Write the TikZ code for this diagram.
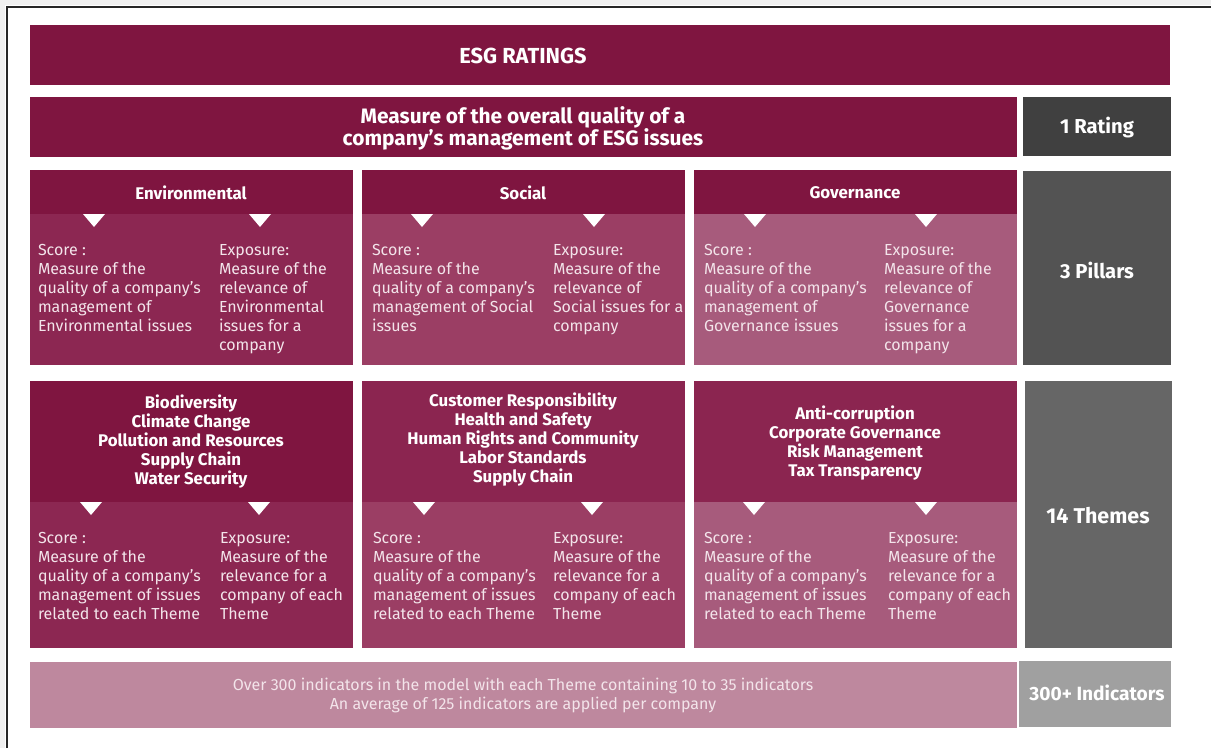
\documentclass[tikz,border=0pt]{standalone}
\usepackage{fontspec}
\setmainfont{Fira Sans}
\definecolor{esgdark}{HTML}{7F1540}
\definecolor{envlight}{HTML}{8C2752}
\definecolor{soclight}{HTML}{9B3E64}
\definecolor{govlight}{HTML}{A75B7C}
\definecolor{themehead}{HTML}{8B2550}
\definecolor{ratinggray}{HTML}{404040}
\definecolor{pillargray}{HTML}{535353}
\definecolor{themegray}{HTML}{666666}
\definecolor{indgray}{HTML}{A0A0A0}
\definecolor{indbar}{HTML}{BE889E}
\definecolor{textpink}{HTML}{F3E4EA}
\begin{document}
\begin{tikzpicture}[x=0.02cm, y=-0.02cm, every node/.style={inner sep=0pt, outer sep=0pt},
    head/.style={font=\bfseries\fontsize{9.6}{10.8}\selectfont, text=white, align=center},
    body/.style={font=\fontsize{9.1}{10.8}\selectfont, text=textpink, align=left, anchor=base west},
    side/.style={font=\bfseries\fontsize{11.5}{12}\selectfont, text=white}]
    \useasboundingbox (0,0) rectangle (1211,748);
    \fill[gray!12] (0,0) rectangle (1211,5);
    \fill[gray!12] (0,0) rectangle (5,748);
    \draw[line width=1.5*0.02cm, black!85] (7,748) -- (7,7) -- (1211,7);

    % top bars (multi-line nodes sit on the baseline of their last line)
    \fill[esgdark] (30,25) rectangle (1170,85);
    \node[head, font=\bfseries\fontsize{12.4}{13}\selectfont] (title) at (523,56) {ESG RATINGS};
    \fill[esgdark] (30,97) rectangle (1017,157);
    \node[head, font=\bfseries\fontsize{11.9}{12.5}\selectfont] (overall) at (523,128) {Measure of the overall quality of a\\company’s management of ESG issues};
    \fill[ratinggray] (1023,97) rectangle (1171,156);
    \node[side] (rating) at (1097,128) {1 Rating};

    % pillars
    \fill[esgdark] (30,170) rectangle (353,214);
    \fill[envlight] (30,214) rectangle (353,365);
    \fill[esgdark] (362,170) rectangle (685,214);
    \fill[soclight] (362,214) rectangle (685,365);
    \fill[esgdark] (694,170) rectangle (1017,214);
    \fill[govlight] (694,214) rectangle (1017,365);
    \foreach \x in {94,260,422,594,755,926}
        \fill[white] (\x-11,214) -- (\x+11,214) -- (\x,227) -- cycle;
    \node[head] (envhead) at (191,193) {Environmental};
    \node[head] (sochead) at (523,193) {Social};
    \node[head] (govhead) at (855,193) {Governance};
    \node[body] (envscore) at (38,331) {Score :\\Measure of the\\quality of a company’s\\management of\\Environmental issues};
    \node[body] (envexpo) at (219,350) {Exposure:\\Measure of the\\relevance of\\Environmental\\issues for a\\company};
    \node[body] (socscore) at (372,331) {Score :\\Measure of the\\quality of a company’s\\management of Social\\issues};
    \node[body] (socexpo) at (553,331) {Exposure:\\Measure of the\\relevance of\\Social issues for a\\company};
    \node[body] (govscore) at (704,331) {Score :\\Measure of the\\quality of a company’s\\management of\\Governance issues};
    \node[body] (govexpo) at (884,350) {Exposure:\\Measure of the\\relevance of\\Governance\\issues for a\\company};
    \fill[pillargray] (1023,171) rectangle (1171,365);
    \node[side] (pillars) at (1097,270) {3 Pillars};

    % themes
    \fill[esgdark] (30,381) rectangle (353,502);
    \fill[envlight] (30,502) rectangle (353,648);
    \fill[themehead] (362,381) rectangle (685,502);
    \fill[soclight] (362,502) rectangle (685,648);
    \fill[themehead] (694,381) rectangle (1017,502);
    \fill[govlight] (694,502) rectangle (1017,648);
    \foreach \x in {91,259,424,592,754,926}
        \fill[white] (\x-11,502) -- (\x+11,502) -- (\x,515) -- cycle;
    \node[head, anchor=base] (envthemes) at (191,484) {Biodiversity\\Climate Change\\Pollution and Resources\\Supply Chain\\Water Security};
    \node[head, anchor=base] (socthemes) at (523,482) {Customer Responsibility\\Health and Safety\\Human Rights and Community\\Labor Standards\\Supply Chain};
    \node[head, anchor=base] (govthemes) at (855,476) {Anti-corruption\\Corporate Governance\\Risk Management\\Tax Transparency};
    \node[body] (envtscore) at (38,619) {Score :\\Measure of the\\quality of a company’s\\management of issues\\related to each Theme};
    \node[body] (envtexpo) at (220,619) {Exposure:\\Measure of the\\relevance for a\\company of each\\Theme};
    \node[body] (soctscore) at (373,619) {Score :\\Measure of the\\quality of a company’s\\management of issues\\related to each Theme};
    \node[body] (soctexpo) at (553,619) {Exposure:\\Measure of the\\relevance for a\\company of each\\Theme};
    \node[body] (govtscore) at (704,619) {Score :\\Measure of the\\quality of a company’s\\management of issues\\related to each Theme};
    \node[body] (govtexpo) at (888,619) {Exposure:\\Measure of the\\relevance for a\\company of each\\Theme};
    \fill[themegray] (1025,381) rectangle (1172,648);
    \node[side, font=\bfseries\fontsize{12.2}{13}\selectfont] (themes) at (1098,516) {14 Themes};

    % indicators
    \fill[indbar] (30,662) rectangle (1017,728);
    \node[body, align=center, anchor=center] (indicators) at (523,695) {Over 300 indicators in the model with each Theme containing 10 to 35 indicators\\An average of 125 indicators are applied per company};
    \fill[indgray] (1019,661) rectangle (1171,727);
    \node[side, font=\bfseries\fontsize{10.9}{12}\selectfont] (indcount) at (1097,693) {300+ Indicators};
\end{tikzpicture}
\end{document}
